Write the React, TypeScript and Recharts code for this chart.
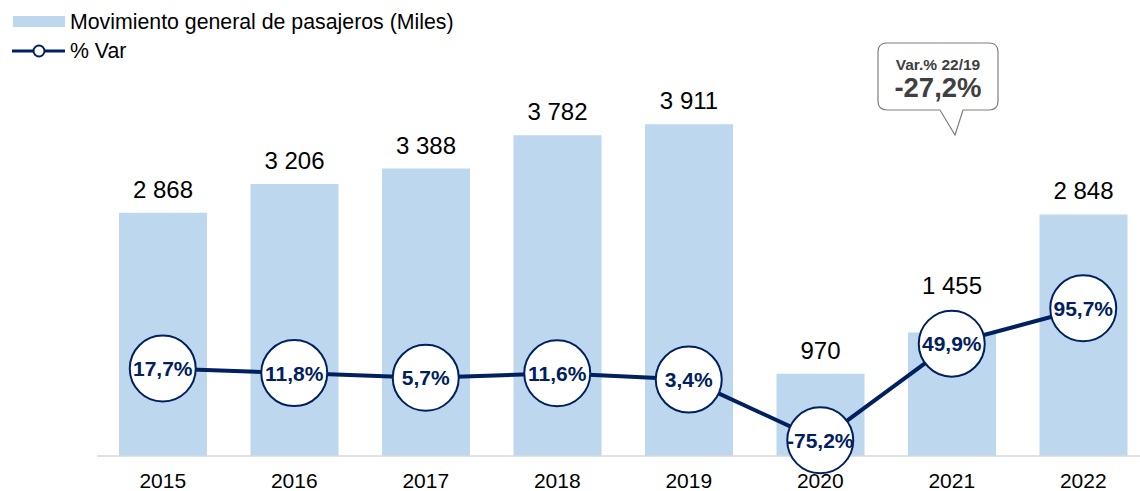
import { Bar, ComposedChart, LabelList, Line, XAxis, YAxis } from 'recharts';

const years = ['2015', '2016', '2017', '2018', '2019', '2020', '2021', '2022'];
const passengers = [2868, 3206, 3388, 3782, 3911, 970, 1455, 2848];
const variation = [17.7, 11.8, 5.7, 11.6, 3.4, -75.2, 49.9, 95.7];

const data = years.map((year, i) => ({ year, passengers: passengers[i], variation: variation[i] }));

const FONT = '"Liberation Sans", Arial, sans-serif';
const NAVY = '#002060';
const BAR = '#bdd7ee';

const fmtThousands = (v: number) => String(v).replace(/\B(?=(\d{3})+(?!\d))/g, ' ');
const fmtPct = (v: number) => `${v.toFixed(1).replace('.', ',')}%`;

function BubbleDot(props: any) {
  const { cx, cy, value, index } = props;
  if (cx == null || cy == null) return <g key={`d-${index}`} />;
  return (
    <g key={`d-${index}`}>
      <circle cx={cx} cy={cy} r={33} fill="#fff" stroke={NAVY} strokeWidth={2} />
      <text x={cx} y={cy} dy="0.36em" textAnchor="middle" fill={NAVY} fontSize={21} fontWeight={700} fontFamily={FONT}>
        {fmtPct(value)}
      </text>
    </g>
  );
}

// value label above each bar; the 2021 one sits above its bubble like in the source
function BarValue(props: any) {
  const { x, y, width, value, index } = props;
  const lift = index === 6 ? 39 : 15;
  return (
    <text x={x + width / 2} y={y - lift} textAnchor="middle" fill="#000" fontSize={24} fontFamily={FONT}>
      {fmtThousands(Number(value))}
    </text>
  );
}

function Overlay() {
  return (
    <svg width={1140} height={491} style={{ position: 'absolute', left: 0, top: 0, pointerEvents: 'none' }}>
      {/* legend */}
      <rect x={13} y={16} width={52} height={11} fill={BAR} />
      <text x={70} y={29} fontSize={21.3} fontFamily={FONT} fill="#000">
        Movimiento general de pasajeros (Miles)
      </text>
      <line x1={12} y1={51} x2={65} y2={51} stroke={NAVY} strokeWidth={3} />
      <circle cx={39} cy={51} r={5.5} fill="#fff" stroke={NAVY} strokeWidth={2} />
      <text x={70} y={58} fontSize={21.3} fontFamily={FONT} fill="#000">
        % Var
      </text>
      {/* callout */}
      <path
        d="M887 43 H989 Q998 43 998 52 V101 Q998 110 989 110 H963 L955 135 L940 110 H887 Q878 110 878 101 V52 Q878 43 887 43 Z"
        fill="#fff"
        stroke="#7f7f7f"
        strokeWidth={1.2}
      />
      <text x={938} y={70} textAnchor="middle" fontSize={15.5} fontWeight={700} fontFamily={FONT} fill="#404040">
        Var.% 22/19
      </text>
      <text x={938} y={97} textAnchor="middle" fontSize={27.5} fontWeight={700} fontFamily={FONT} fill="#404040">
        -27,2%
      </text>
    </svg>
  );
}

export default function App() {
  return (
    <div style={{ position: 'absolute', left: 0, top: 0, width: 1140, height: 491, overflow: 'hidden', background: '#fff' }}>
      <ComposedChart width={1150} height={491} data={data} margin={{ top: 40, right: 1, bottom: 0, left: 97 }}>
        <XAxis
          dataKey="year"
          height={35}
          axisLine={{ stroke: '#d9d9d9', strokeWidth: 1.5 }}
          tickLine={false}
          tickMargin={11}
          tick={{ fill: '#000', fontSize: 21, fontFamily: FONT }}
        />
        <YAxis yAxisId="left" hide domain={[0, 4904]} />
        <YAxis yAxisId="right" hide orientation="right" domain={[-95.5, 443]} />
        <Bar yAxisId="left" dataKey="passengers" fill={BAR} barSize={88} isAnimationActive={false}>
          <LabelList dataKey="passengers" content={BarValue} />
        </Bar>
        <Line
          yAxisId="right"
          dataKey="variation"
          type="linear"
          stroke={NAVY}
          strokeWidth={4}
          dot={BubbleDot}
          activeDot={false}
          isAnimationActive={false}
        />
      </ComposedChart>
      <Overlay />
    </div>
  );
}
